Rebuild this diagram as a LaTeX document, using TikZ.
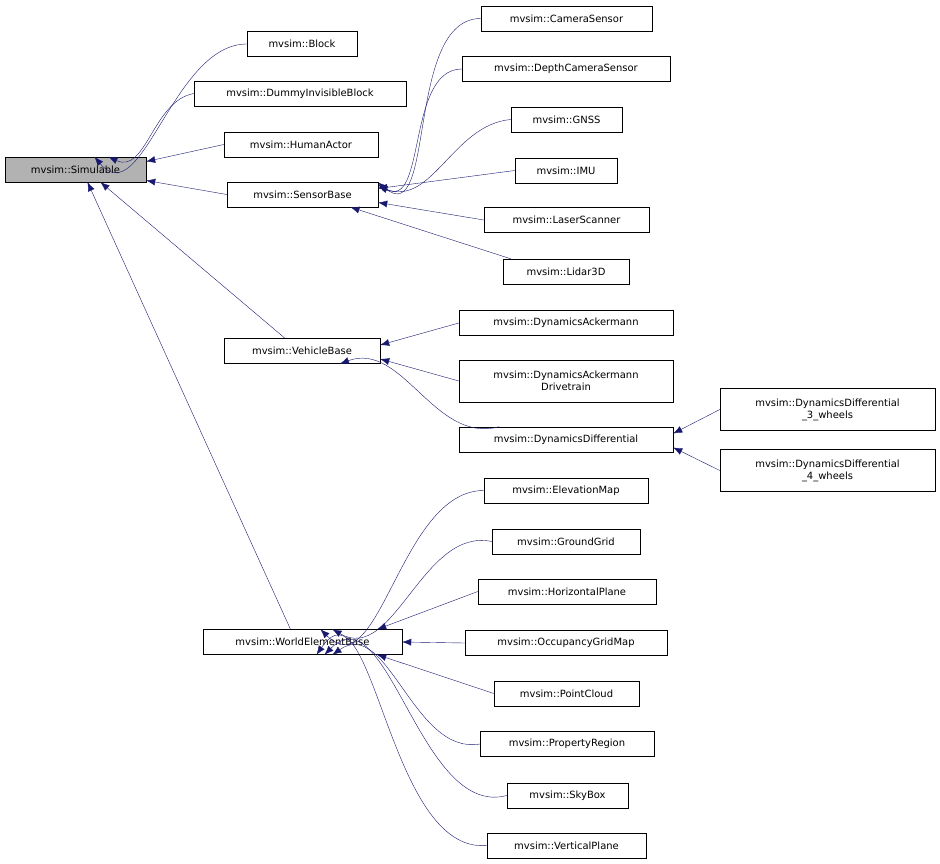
\documentclass[tikz,border=0pt]{standalone}
\usepackage{fontspec}
\setmainfont{DejaVu Sans}
\usetikzlibrary{calc,arrows.meta}
\definecolor{edgec}{HTML}{191970}
\begin{document}
\begin{tikzpicture}[x=1bp,y=-1bp,
  box/.style={draw=black,fill=white,inner sep=0pt,minimum height=25bp,font=\fontsize{10}{12}\selectfont,align=center},
  e/.style={draw=edgec,-{Latex[length=9bp,width=7bp]}}]
\useasboundingbox (0,0) rectangle (940,864);
\node[box,fill=black!30,minimum width=141bp] (sim) at (75.5,169.5) {mvsim::Simulable};
\node[box,minimum width=110bp] (blk) at (302,44) {mvsim::Block};
\node[box,minimum width=212bp] (dum) at (300,93.5) {mvsim::DummyInvisibleBlock};
\node[box,minimum width=154bp] (hum) at (301,144.5) {mvsim::HumanActor};
\node[box,minimum width=151bp] (sen) at (302.5,194.5) {mvsim::SensorBase};
\node[box,minimum width=156bp] (veh) at (302,351) {mvsim::VehicleBase};
\node[box,minimum width=199bp] (web) at (302.5,642) {mvsim::WorldElementBase};
\node[box,minimum width=171bp] (cam) at (566.5,18.5) {mvsim::CameraSensor};
\node[box,minimum width=208bp] (dep) at (566,69) {mvsim::DepthCameraSensor};
\node[box,minimum width=111bp] (gnss) at (566.5,119.5) {mvsim::GNSS};
\node[box,minimum width=102bp] (imu) at (566,170.5) {mvsim::IMU};
\node[box,minimum width=165bp] (las) at (566.5,220) {mvsim::LaserScanner};
\node[box,minimum width=126bp] (lid) at (566,271.5) {mvsim::Lidar3D};
\node[box,minimum width=214bp] (dak) at (566,323) {mvsim::DynamicsAckermann};
\node[box,minimum width=214bp,minimum height=42bp] (dakd) at (566,381) {mvsim::DynamicsAckermann\\Drivetrain};
\node[box,minimum width=214bp] (ddf) at (566,439.5) {mvsim::DynamicsDifferential};
\node[box,minimum width=215bp,minimum height=42bp] (d3) at (827.5,409.5) {mvsim::DynamicsDifferential\\\_3\_wheels};
\node[box,minimum width=215bp,minimum height=42bp] (d4) at (827.5,470.5) {mvsim::DynamicsDifferential\\\_4\_wheels};
\node[box,minimum width=164bp] (ele) at (566,490.5) {mvsim::ElevationMap};
\node[box,minimum width=148bp] (gg) at (566,541.5) {mvsim::GroundGrid};
\node[box,minimum width=178bp] (hp) at (567,591.5) {mvsim::HorizontalPlane};
\node[box,minimum width=202bp] (ogm) at (566,643) {mvsim::OccupancyGridMap};
\node[box,minimum width=145bp] (pc) at (566.5,693.5) {mvsim::PointCloud};
\node[box,minimum width=174bp] (pr) at (567,744) {mvsim::PropertyRegion};
\node[box,minimum width=121bp] (sky) at (567.5,795.5) {mvsim::SkyBox};
\node[box,minimum width=159bp] (vp) at (566.5,845.5) {mvsim::VerticalPlane};
% Simulable
\draw[e] (blk.west) to[out=180,in=-50] ($(sim.north)+(19,0)$);
\draw[e] (dum.west) to[out=190,in=-25] ($(sim.north)+(33,0)$);
\draw[e] (hum.west) -- ($(sim.east)+(0,-8)$);
\draw[e] (sen.west) -- ($(sim.east)+(0,11)$);
\draw[e] ($(veh.north)+(-17,0)$) -- ($(sim.south)+(25,0)$);
\draw[e] ($(web.north)+(-12,0)$) -- ($(sim.south)+(12,0)$);
% SensorBase
\draw[e] (cam.west) to[out=180,in=-40] ($(sen.east)+(0,-12)$);
\draw[e] (dep.west) to[out=180,in=-30] ($(sen.east)+(0,-10)$);
\draw[e] (gnss.west) to[out=185,in=-20] ($(sen.east)+(0,-8)$);
\draw[e] (imu.west) -- ($(sen.east)+(0,-6)$);
\draw[e] (las.west) -- ($(sen.east)+(0,8)$);
\draw[e] ($(lid.north west)+(8,0)$) -- ($(sen.south)+(48,0)$);
% VehicleBase
\draw[e] (dak.west) -- ($(veh.east)+(0,-6)$);
\draw[e] (dakd.west) -- ($(veh.east)+(0,8)$);
\draw[e] ($(ddf.north west)+(40,0)$) to[out=195,in=20] ($(veh.south)+(38,0)$);
\draw[e] (d3.west) -- ($(ddf.east)+(0,-6)$);
\draw[e] (d4.west) -- ($(ddf.east)+(0,8)$);
% WorldElementBase
\draw[e] (ele.west) to[out=180,in=-45] ($(web.north)+(18,0)$);
\draw[e] (gg.west) to[out=168,in=-30] ($(web.north)+(30,0)$);
\draw[e] (hp.west) -- ($(web.north east)+(-25,0)$);
\draw[e] (ogm.west) -- (web.east);
\draw[e] (pc.west) -- ($(web.south east)+(-25,0)$);
\draw[e] (pr.west) to[out=190,in=35] ($(web.south)+(30,0)$);
\draw[e] (sky.west) to[out=195,in=45] ($(web.south)+(22,0)$);
\draw[e] (vp.west) to[out=185,in=55] ($(web.south)+(14,0)$);
\end{tikzpicture}
\end{document}
